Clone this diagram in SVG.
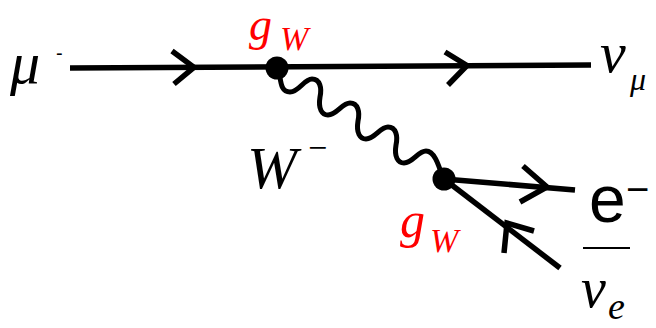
<svg xmlns="http://www.w3.org/2000/svg" width="656" height="328" viewBox="0 0 656 328">
<style>
.fer{fill:none;stroke:#000;stroke-width:5.5;stroke-linecap:butt}
.arr{fill:none;stroke:#000;stroke-width:5.5;stroke-linejoin:miter;stroke-linecap:butt}
.bos{fill:none;stroke:#000;stroke-width:5;stroke-linecap:round}
.vtx{fill:#000}
.lab{font-family:"Liberation Serif","Times New Roman",serif;font-style:italic;fill:#000}
.cpl{font-family:"Liberation Serif","Times New Roman",serif;font-style:italic;fill:#FF0000}
.sans{font-family:"Liberation Sans",Arial,sans-serif;fill:#000}
.up{font-family:"Liberation Serif","Times New Roman",serif;fill:#000}
</style>
<rect width="656" height="328" fill="#fff"/>
<g id="connectors">
  <path class="fer" d="M70,68 L591,65"/>
  <path class="arr" d="M172,51 L194,67.3 L174,84"/>
  <path class="arr" d="M445,52 L467,65.5 L448,85"/>
  <path class="bos" d="M279,72 C281,80 280,92 290,92 c9,0 14,-13 22,-13 c8,0 10,9 8,18 c-2,12 2,18 8,18 c9,0 14,-12 22,-12 c8,0 10,9 8,18 c-2,12 2,18 8,18 c9,0 14,-12 22,-12 c8,0 10,9 8,18 c-2,12 2,18 8,18 c9,0 14,-12 22,-12 c8,0 12,12 17,27"/>
  <path class="fer" d="M444,179 L575,190"/>
  <path class="arr" d="M523,166 L547,187 L520,202"/>
  <path class="fer" d="M444,179 L560,268"/>
  <path class="arr" d="M534,231 L507,223 L504,253"/>
</g>
<g id="vertex1">
  <circle class="vtx" cx="277" cy="68" r="11.5"/>
  <text class="cpl" x="249" y="40" font-size="46">g</text>
  <text class="cpl" x="280" y="50" font-size="34">W</text>
</g>
<g id="vertex2">
  <circle class="vtx" cx="444" cy="179" r="11.5"/>
  <text class="cpl" x="400" y="237" font-size="50">g</text>
  <text class="cpl" x="430" y="252" font-size="34">W</text>
</g>
<g id="muon">
  <text class="lab" x="10" y="83" font-size="60">μ</text>
  <text class="sans" x="56" y="60" font-size="20">-</text>
</g>
<g id="numu">
  <text class="lab" x="600" y="72" font-size="58">ν</text>
  <text class="lab" x="630" y="90" font-size="32">μ</text>
</g>
<g id="wboson">
  <text class="lab" x="247" y="188" font-size="60">W</text>
  <text class="up" x="308" y="159" font-size="34">−</text>
</g>
<g id="electron">
  <text class="sans" x="589" y="222" font-size="66">e</text>
  <text class="sans" x="626" y="203" font-size="40">−</text>
</g>
<g id="antinue">
  <line x1="583" y1="248" x2="630" y2="248" stroke="#000" stroke-width="2.2"/>
  <text class="lab" x="581" y="307" font-size="56">ν</text>
  <text class="lab" x="608" y="319" font-size="38">e</text>
</g>
</svg>
